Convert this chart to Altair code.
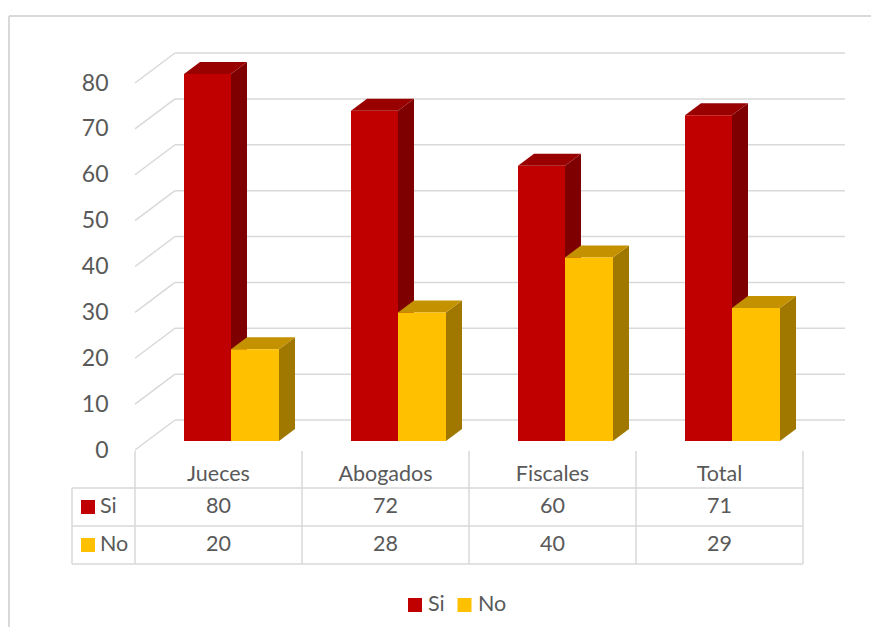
import altair as alt
import pandas as pd

# ---------------- data ----------------
categories = ["Jueces", "Abogados", "Fiscales", "Total"]
series = ["Si", "No"]
si_values = [80, 72, 60, 71]
no_values = [20, 28, 40, 29]
y_ticks = [0, 10, 20, 30, 40, 50, 60, 70, 80]

# ---------------- layout / styles ----------------
FONT = "Lato"
TXT = "#595959"
GRID = "#D9D9D9"
front_colors = ["#C00000", "#FFC000"]
top_colors = {"Si": "#990000", "No": "#C49100"}
side_colors = {"Si": "#7F0000", "No": "#A07800"}

PX = 367 / 80.0          # pixels per value unit
COL = 167.0              # pixels per category column
X0, Y0, TOP, RIGHT = 135, 450, 40, 845
W, H = RIGHT - X0, Y0 - TOP


def ux(px):
    return (px - X0) / COL


def uy(px):
    return (Y0 - px) / PX


values = {"Si": si_values, "No": no_values}
bar_px = {"Si": (49, 96), "No": (96, 144)}
BASE = uy(441)
DX, DY = 16 / COL, 12 / PX

front, side, topf = [], [], []
for i, cat in enumerate(categories):
    for s in series:
        v = values[s][i]
        L = i + bar_px[s][0] / COL
        R = i + bar_px[s][1] / COL
        g = f"{cat}-{s}"
        front.append(dict(category=cat, series=s, x=L, x2=R, y=BASE, y2=BASE + v, value=v))
        side += [dict(g=g, series=s, x=R, y=BASE, y2=BASE + v),
                 dict(g=g, series=s, x=R + DX, y=BASE + DY, y2=BASE + v + DY)]
        topf += [dict(g=g, series=s, x=L, y=BASE + v, y2=BASE + v),
                 dict(g=g, series=s, x=L + DX, y=BASE + v, y2=BASE + v + DY),
                 dict(g=g, series=s, x=R, y=BASE + v, y2=BASE + v + DY),
                 dict(g=g, series=s, x=R + DX, y=BASE + v + DY, y2=BASE + v + DY)]
front_df = pd.DataFrame(front)
side_df = pd.DataFrame(side)
top_df = pd.DataFrame(topf)

grid_df = pd.DataFrame(dict(v=y_ticks))
grid_df["back"] = grid_df["v"] + 30 / PX
grid_df["xa"] = 0.0
grid_df["xb"] = ux(175)
grid_df["xc"] = ux(RIGHT)

xs = alt.Scale(domain=[0, W / COL], nice=False, zero=False)
ys = alt.Scale(domain=[0, H / PX], nice=False, zero=False)
yaxis = alt.Axis(values=y_ticks, domain=False, ticks=False, grid=False,
                 labelPadding=27, labelFont=FONT, labelFontSize=23,
                 labelColor=TXT, title=None)


def X(f):
    return alt.X(f, scale=xs, axis=None)


def Y(f):
    return alt.Y(f, scale=ys, axis=yaxis, stack=None)


color_scale = alt.Scale(domain=series, range=front_colors)

# gridlines: back wall + left wall diagonals
back = alt.Chart(grid_df).mark_rule(color=GRID, strokeWidth=1.5).encode(
    x=X("xb:Q"), x2="xc:Q", y=Y("back:Q"))
diag = alt.Chart(grid_df).mark_rule(color=GRID, strokeWidth=1.5).encode(
    x=X("xa:Q"), x2="xb:Q", y=Y("v:Q"), y2="back:Q")

layers = [back, diag]
for s in series:
    layers.append(alt.Chart(side_df).transform_filter(alt.datum.series == s).mark_area(
        color=side_colors[s], opacity=1).encode(
        x=X("x:Q"), y=Y("y:Q"), y2="y2:Q", detail="g:N"))
    layers.append(alt.Chart(top_df).transform_filter(alt.datum.series == s).mark_area(
        color=top_colors[s], opacity=1).encode(
        x=X("x:Q"), y=Y("y:Q"), y2="y2:Q", detail="g:N"))
    layers.append(alt.Chart(front_df).transform_filter(alt.datum.series == s).mark_rect().encode(
        x=X("x:Q"), x2="x2:Q", y=Y("y:Q"), y2="y2:Q",
        color=alt.Color("series:N", scale=color_scale, legend=None)))

# ---------------- data table ----------------
vlines = pd.DataFrame(dict(x=[0, 1, 2, 3, 4, ux(72)],
                           y=[uy(451)] * 5 + [uy(488)],
                           y2=[uy(564)] * 6))
hlines = pd.DataFrame(dict(y=[uy(488), uy(526), uy(564)]))
hlines["x"] = ux(72)
hlines["x2"] = 4.0

table_lines = [
    alt.Chart(vlines).mark_rule(color=GRID, strokeWidth=1.5).encode(
        x=X("x:Q"), y=Y("y:Q"), y2="y2:Q"),
    alt.Chart(hlines).mark_rule(color=GRID, strokeWidth=1.5).encode(
        x=X("x:Q"), x2="x2:Q", y=Y("y:Q")),
]

row_y = {"Si": uy(507), "No": uy(545)}
header_df = pd.DataFrame(dict(category=categories, x=[i + 0.5 for i in range(len(categories))]))
header_df["y"] = uy(475)
cells = []
for i, cat in enumerate(categories):
    for s in series:
        cells.append(dict(category=cat, series=s, value=values[s][i], x=i + 0.5, y=row_y[s]))
cells_df = pd.DataFrame(cells)
rowlab_df = pd.DataFrame(dict(series=series, y=[row_y[s] for s in series]))
rowlab_df["xs"] = ux(88)
rowlab_df["xt"] = ux(100)

text_kw = dict(font=FONT, fontSize=21.5, color=TXT, baseline="middle")
table_marks = [
    alt.Chart(header_df).mark_text(align="center", **text_kw).encode(
        x=X("x:Q"), y=Y("y:Q"), text="category:N"),
    alt.Chart(cells_df).mark_text(align="center", **text_kw).encode(
        x=X("x:Q"), y=Y("y:Q"), text="value:Q"),
    alt.Chart(rowlab_df).mark_square(size=196, opacity=1).encode(
        x=X("xs:Q"), y=Y("y:Q"),
        color=alt.Color("series:N", scale=color_scale, legend=None)),
    alt.Chart(rowlab_df).mark_text(align="left", **text_kw).encode(
        x=X("xt:Q"), y=Y("y:Q"), text="series:N"),
]

# ---------------- legend (bottom) ----------------
leg_df = pd.DataFrame(dict(series=series, xs=[ux(415), ux(464.5)], xt=[ux(428), ux(478)]))
leg_df["y"] = uy(605)
legend_marks = [
    alt.Chart(leg_df).mark_square(size=196, opacity=1).encode(
        x=X("xs:Q"), y=Y("y:Q"),
        color=alt.Color("series:N", scale=color_scale, legend=None)),
    alt.Chart(leg_df).mark_text(align="left", **text_kw).encode(
        x=X("xt:Q"), y=Y("y:Q"), text="series:N"),
]

# ---------------- outer frame ----------------
frame = [
    alt.Chart(grid_df).mark_rule(color=GRID, strokeWidth=1.5).encode(
        x=alt.value(9 - X0), x2=alt.value(879 - X0), y=alt.value(16 - TOP)),
    alt.Chart(grid_df).mark_rule(color=GRID, strokeWidth=1.5).encode(
        x=alt.value(9 - X0), y=alt.value(16 - TOP), y2=alt.value(640 - TOP)),
]

chart = alt.layer(*(frame + layers + table_lines + table_marks + legend_marks)).properties(
    width=W, height=H,
    background="white",
    autosize=alt.AutoSizeParams(type="none"),
    padding={"left": X0 - 8, "top": TOP - 8, "right": 879 - RIGHT - 8, "bottom": 635 - Y0 - 8},
).configure_view(stroke=None)

chart.save("out.html", embed_options={"renderer": "svg", "actions": False})
